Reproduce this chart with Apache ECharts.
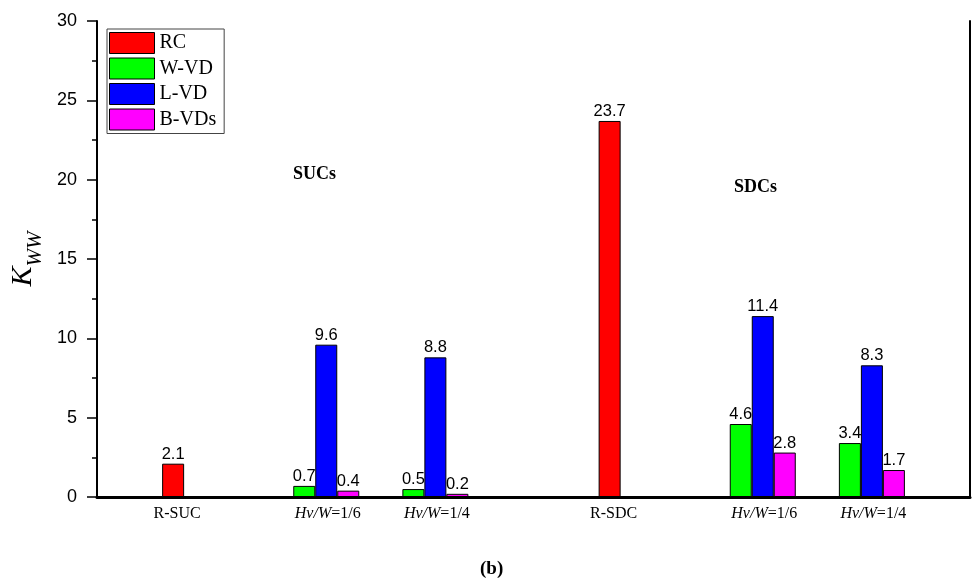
<!DOCTYPE html>
<html>
<head>
<meta charset="utf-8">
<script src="https://cdn.jsdelivr.net/npm/echarts@6/dist/echarts.min.js"></script>
<style>
  html, body { margin: 0; padding: 0; background: #fff; }
  #chart { width: 973px; height: 587px; }
</style>
</head>
<body>
<div id="chart"></div>
<script>
// Category slots: empty slots leave room at the edges and between the two panels
const categories = ['', 'R-SUC', 'Hv/W=1/6', 'Hv/W=1/4', '', 'R-SDC', 'Hv/W=1/6', 'Hv/W=1/4', ''];
const seriesNames = ['RC', 'W-VD', 'L-VD', 'B-VDs'];
const rcValues   = [null, 2.1, null, null, null, 23.7, null, null, null];
const wvdValues  = [null, null, 0.7, 0.5, null, null, 4.6, 3.4, null];
const lvdValues  = [null, null, 9.6, 8.8, null, null, 11.4, 8.3, null];
const bvdsValues = [null, null, 0.4, 0.2, null, null, 2.8, 1.7, null];
const yTicks = { min: 0, max: 30, interval: 5 };
const colors = ['#ff0000', '#00ff00', '#0000ff', '#ff00ff'];

const serif = '"Liberation Serif", "Times New Roman", serif';
const sans = '"Liberation Sans", Arial, sans-serif';

function xLabel(value) {
  if (!value) return '';
  if (value.indexOf('Hv/W') === 0) {
    return '{i|Hv/W}{n|' + value.slice(4) + '}';
  }
  return '{r|' + value + '}';
}

function barSeries(name, data, color) {
  return {
    name: name,
    type: 'bar',
    data: data,
    barWidth: 22,
    barGap: '0%',
    itemStyle: { color: color, borderColor: '#000', borderWidth: 1 },
    label: {
      show: true,
      position: 'top',
      distance: 1,
      color: '#000',
      fontFamily: sans,
      fontSize: 16.5,
      formatter: p => p.value == null ? '' : p.value.toFixed(1)
    }
  };
}

const chart = echarts.init(document.getElementById('chart'), null, { renderer: 'canvas' });
chart.setOption({
  animation: false,
  backgroundColor: '#fff',
  grid: { left: 97, right: 2, top: 21, bottom: 90, containLabel: false },
  legend: {
    orient: 'vertical',
    left: 107,
    top: 29,
    padding: [3, 8, 3, 2],
    itemWidth: 45,
    itemHeight: 21,
    itemGap: 3.5,
    borderColor: '#444',
    borderWidth: 1,
    backgroundColor: '#fff',
    icon: 'rect',
    itemStyle: { borderColor: '#000', borderWidth: 1 },
    textStyle: { fontFamily: serif, fontSize: 20, color: '#000', lineHeight: 21 },
    data: seriesNames
  },
  xAxis: [
    {
      type: 'category',
      data: categories,
      boundaryGap: false,
      axisLine: { lineStyle: { color: '#000', width: 3 } },
      axisTick: { show: false },
      splitLine: { show: false },
      axisLabel: {
        interval: 0,
        margin: 9,
        color: '#000',
        formatter: xLabel,
        rich: {
          r: { fontFamily: serif, fontSize: 16, color: '#000', padding: [0, 58, 0, 0] },
          i: { fontFamily: serif, fontSize: 16, fontStyle: 'italic', color: '#000', padding: [0, 0, 0, 25] },
          n: { fontFamily: serif, fontSize: 16, color: '#000' }
        }
      }
    },
    {
      type: 'category',
      data: categories,
      boundaryGap: false,
      position: 'top',
      axisLine: { lineStyle: { color: '#000', width: 2 } },
      axisTick: { show: false },
      axisLabel: { show: false },
      splitLine: { show: false }
    }
  ],
  yAxis: [
    {
      type: 'value',
      min: yTicks.min,
      max: yTicks.max,
      interval: yTicks.interval,
      axisLine: { show: true, lineStyle: { color: '#000', width: 2 } },
      axisTick: { show: true, inside: false, length: 10, lineStyle: { color: '#000', width: 1.5 } },
      minorTick: { show: true, splitNumber: 2, length: 5, lineStyle: { color: '#000', width: 1.5 } },
      splitLine: { show: false },
      axisLabel: { color: '#000', fontFamily: sans, fontSize: 18, margin: 20 },
      name: '{k|K}{s|WW}',
      nameLocation: 'middle',
      nameRotate: 90,
      nameGap: 46,
      nameTextStyle: {
        rich: {
          k: { fontFamily: serif, fontStyle: 'italic', fontSize: 30, lineHeight: 30, color: '#000', verticalAlign: 'top' },
          s: { fontFamily: serif, fontStyle: 'italic', fontSize: 21, lineHeight: 21, color: '#000', verticalAlign: 'top', padding: [17, 0, 0, 0] }
        }
      }
    },
    {
      type: 'value',
      position: 'right',
      min: yTicks.min,
      max: yTicks.max,
      interval: yTicks.interval,
      axisLine: { show: true, lineStyle: { color: '#000', width: 2 } },
      axisTick: { show: false },
      axisLabel: { show: false },
      splitLine: { show: false }
    }
  ],
  series: [
    barSeries(seriesNames[0], rcValues, colors[0]),
    barSeries(seriesNames[1], wvdValues, colors[1]),
    barSeries(seriesNames[2], lvdValues, colors[2]),
    barSeries(seriesNames[3], bvdsValues, colors[3])
  ],
  graphic: [
    {
      type: 'text', left: 293, top: 165,
      style: { text: 'SUCs', fontFamily: serif, fontWeight: 'bold', fontSize: 18, fill: '#000' }
    },
    {
      type: 'text', left: 734, top: 178,
      style: { text: 'SDCs', fontFamily: serif, fontWeight: 'bold', fontSize: 18, fill: '#000' }
    },
    {
      type: 'text', left: 480, top: 560,
      style: { text: '(b)', fontFamily: serif, fontWeight: 'bold', fontSize: 19, fill: '#000' }
    }
  ]
});
</script>
</body>
</html>
